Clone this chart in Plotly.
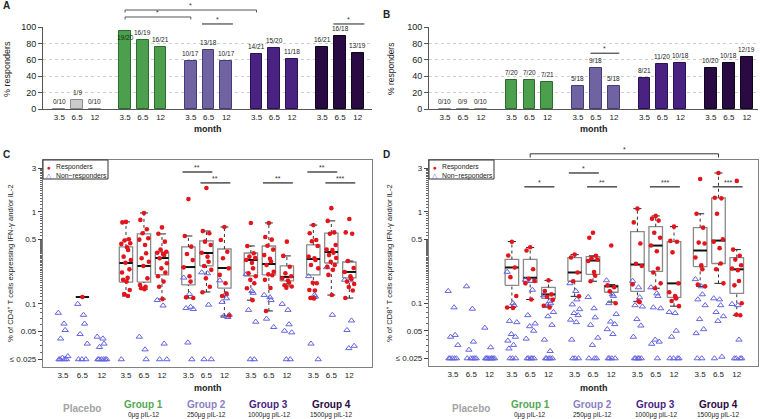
import plotly.graph_objects as go
import math

# ---------------- data ----------------
MONTHS = ["3.5", "6.5", "12"]
GROUPS = ["Placebo", "Group 1", "Group 2", "Group 3", "Group 4"]
DOSES = ["", "0μg pIL-12", "250μg pIL-12", "1000μg pIL-12", "1500μg pIL-12"]

# panel A / B: responders / total per (group, month)
CD4_RESPONDERS = [0, 1, 0, 19, 16, 16, 10, 13, 10, 14, 15, 11, 16, 16, 13]
CD4_TOTAL = [10, 9, 10, 20, 19, 21, 17, 18, 17, 21, 20, 18, 21, 18, 19]
CD8_RESPONDERS = [0, 0, 0, 7, 7, 7, 5, 9, 5, 8, 11, 10, 10, 10, 12]
CD8_TOTAL = [10, 9, 10, 20, 20, 21, 18, 18, 18, 21, 20, 18, 20, 18, 19]

# panel C: % CD4+ cells, responders (red) and non-responders (blue)
CD4_RESP_VALUES = [
    [], [0.119], [],
    [0.78, 0.77, 0.505, 0.49, 0.457, 0.45, 0.413, 0.386, 0.327, 0.301, 0.281, 0.238, 0.22, 0.192, 0.183, 0.175, 0.142, 0.128, 0.122],
    [0.975, 0.82, 0.65, 0.587, 0.518, 0.5, 0.438, 0.356, 0.314, 0.288, 0.259, 0.19, 0.161, 0.154, 0.148, 0.145],
    [0.68, 0.58, 0.476, 0.39, 0.37, 0.36, 0.35, 0.34, 0.314, 0.277, 0.244, 0.219, 0.2, 0.175, 0.154, 0.113],
    [1.38, 0.548, 0.42, 0.35, 0.3, 0.25, 0.2, 0.175, 0.118, 0.116],
    [1.82, 0.62, 0.587, 0.476, 0.438, 0.361, 0.327, 0.288, 0.259, 0.235, 0.19, 0.154, 0.134],
    [0.687, 0.496, 0.37, 0.314, 0.244, 0.207, 0.168, 0.13, 0.122, 0.075],
    [0.76, 0.427, 0.356, 0.327, 0.316, 0.301, 0.28, 0.244, 0.216, 0.2, 0.183, 0.168, 0.148, 0.11],
    [0.76, 0.535, 0.5, 0.43, 0.39, 0.34, 0.31, 0.29, 0.265, 0.224, 0.21, 0.205, 0.183, 0.149, 0.084],
    [0.476, 0.333, 0.254, 0.216, 0.2, 0.19, 0.18, 0.17, 0.16, 0.155, 0.15],
    [0.72, 0.587, 0.496, 0.48, 0.427, 0.327, 0.314, 0.301, 0.265, 0.244, 0.17, 0.168, 0.142, 0.14, 0.116, 0.115],
    [1.1, 0.8, 0.6, 0.58, 0.438, 0.39, 0.385, 0.36, 0.34, 0.316, 0.288, 0.265, 0.253, 0.235, 0.207, 0.125],
    [0.84, 0.6, 0.58, 0.293, 0.246, 0.223, 0.2, 0.187, 0.175, 0.165, 0.153, 0.14, 0.116],
]
CD4_NONRESP_VALUES = [
    [0.08, 0.061, 0.052, 0.042, 0.027, 0.026, 0.025, 0.025, 0.025, 0.025],
    [0.1, 0.076, 0.061, 0.047, 0.037, 0.025, 0.025, 0.025],
    [0.044, 0.042, 0.037, 0.034, 0.025, 0.025, 0.025, 0.025, 0.025, 0.025],
    [0.025],
    [0.044, 0.032, 0.025],
    [0.11, 0.096, 0.037, 0.025, 0.025],
    [0.193, 0.128, 0.093, 0.09, 0.088, 0.038, 0.025],
    [0.22, 0.215, 0.098, 0.025, 0.025],
    [0.18, 0.128, 0.115, 0.105, 0.076, 0.074, 0.072],
    [0.21, 0.138, 0.132, 0.086, 0.064, 0.025, 0.025],
    [0.125, 0.118, 0.11, 0.069, 0.056],
    [0.1, 0.086, 0.06, 0.051, 0.049, 0.025, 0.025],
    [0.2, 0.125, 0.12, 0.037, 0.025],
    [0.25, 0.076],
    [0.183, 0.18, 0.066, 0.052, 0.035, 0.033],
]
# box stats (lower whisker, Q1, median, Q3, upper whisker) of responders
CD4_BOX = [
    None, (0.119, 0.119, 0.119, 0.119, 0.119), None,
    (0.122, 0.173, 0.279, 0.417, 0.78), (0.145, 0.173, 0.259, 0.577, 0.975), (0.113, 0.207, 0.316, 0.367, 0.577),
    (0.116, 0.161, 0.252, 0.417, 0.548), (0.135, 0.259, 0.358, 0.484, 0.621), (0.074, 0.149, 0.246, 0.396, 0.687),
    (0.11, 0.202, 0.301, 0.358, 0.427), (0.084, 0.207, 0.272, 0.427, 0.76), (0.157, 0.178, 0.197, 0.259, 0.333),
    (0.116, 0.207, 0.308, 0.438, 0.72), (0.125, 0.279, 0.367, 0.59, 0.8), (0.116, 0.192, 0.223, 0.286, 0.293),
]

# panel D: % CD8+ cells
CD8_RESP_VALUES = [
    [], [], [],
    [0.47, 0.333, 0.246, 0.193, 0.12, 0.09, 0.089],
    [0.41, 0.377, 0.235, 0.185, 0.175, 0.165, 0.11],
    [0.178, 0.136, 0.125, 0.118, 0.109, 0.094, 0.09],
    [0.34, 0.316, 0.217, 0.174, 0.119],
    [0.59, 0.52, 0.33, 0.31, 0.3, 0.29, 0.22, 0.2, 0.174],
    [0.427, 0.157, 0.15, 0.135, 0.1],
    [1.08, 0.765, 0.449, 0.27, 0.255, 0.161, 0.105, 0.103],
    [0.9, 0.84, 0.8, 0.59, 0.52, 0.427, 0.37, 0.24, 0.217, 0.165, 0.146],
    [0.687, 0.48, 0.47, 0.36, 0.165, 0.132, 0.12, 0.113, 0.106, 0.093],
    [2.28, 0.95, 0.67, 0.46, 0.45, 0.316, 0.26, 0.235, 0.16, 0.153],
    [2.65, 1.42, 1.4, 0.95, 0.5, 0.47, 0.4, 0.272, 0.235, 0.165],
    [2.17, 0.386, 0.33, 0.3, 0.26, 0.24, 0.23, 0.175, 0.157, 0.1, 0.075, 0.074],
]
CD8_NONRESP_VALUES = [
    [0.136, 0.09, 0.045, 0.043, 0.035, 0.025, 0.025, 0.025, 0.025, 0.025],
    [0.153, 0.087, 0.038, 0.031, 0.025, 0.025, 0.025, 0.025, 0.025],
    [0.054, 0.033, 0.025, 0.025, 0.025, 0.025, 0.025, 0.025, 0.025, 0.025],
    [0.22, 0.1, 0.095, 0.064, 0.062, 0.046, 0.043, 0.039, 0.035, 0.032, 0.025, 0.025, 0.025],
    [0.18, 0.175, 0.14, 0.074, 0.06, 0.056, 0.05, 0.041, 0.025, 0.025, 0.025, 0.025, 0.025],
    [0.122, 0.105, 0.1, 0.093, 0.08, 0.072, 0.058, 0.04, 0.03, 0.025, 0.025, 0.025, 0.025, 0.025],
    [0.165, 0.136, 0.11, 0.097, 0.086, 0.078, 0.074, 0.066, 0.062, 0.04, 0.025, 0.025, 0.025],
    [0.117, 0.088, 0.07, 0.058, 0.042, 0.035, 0.025, 0.025, 0.025],
    [0.178, 0.125, 0.12, 0.1, 0.076, 0.063, 0.059, 0.052, 0.046, 0.025, 0.025, 0.025, 0.025],
    [0.175, 0.149, 0.116, 0.095, 0.092, 0.067, 0.057, 0.043, 0.025, 0.025, 0.025, 0.025, 0.025],
    [0.149, 0.128, 0.12, 0.09, 0.088, 0.04, 0.038, 0.036, 0.025],
    [0.08, 0.078, 0.05, 0.043, 0.025, 0.025, 0.025, 0.025],
    [0.183, 0.153, 0.125, 0.11, 0.095, 0.067, 0.052, 0.047, 0.025, 0.025],
    [0.113, 0.11, 0.095, 0.08, 0.072, 0.064, 0.026, 0.025],
    [0.098, 0.095, 0.04, 0.025, 0.025, 0.025, 0.025],
]
CD8_BOX = [
    None, None, None,
    (0.09, 0.157, 0.246, 0.301, 0.472), (0.11, 0.169, 0.19, 0.301, 0.406), (0.093, 0.113, 0.125, 0.149, 0.178),
    (0.119, 0.174, 0.217, 0.316, 0.34), (0.174, 0.207, 0.293, 0.324, 0.33), (0.103, 0.132, 0.153, 0.157, 0.16),
    (0.105, 0.135, 0.265, 0.606, 1.08), (0.146, 0.223, 0.427, 0.687, 0.9), (0.093, 0.116, 0.165, 0.472, 0.687),
    (0.153, 0.252, 0.377, 0.67, 0.95), (0.165, 0.272, 0.484, 1.42, 2.65), (0.074, 0.128, 0.235, 0.316, 0.386),
]

# significance comparisons
A_BRACKETS = [((1, 0), (3, 0), 1.207, True, "*"), ((1, 0), (2, 0), 1.122, True, "*"),
              ((2, 1), (2, 2), 1.037, False, "*"), ((4, 1), (4, 2), 1.037, False, "*")]
B_BRACKETS = [((2, 1), (2, 2), 68.0, "*")]
C_BRACKETS = [((2, 0), (2, 1), 2.72, "**"), ((2, 1), (2, 2), 2.07, "**"), ((3, 1), (3, 2), 2.07, "**"),
              ((4, 0), (4, 1), 2.72, "**"), ((4, 1), (4, 2), 2.07, "***")]
D_BRACKETS = [((2, 0), (2, 1), 2.65, "*"), ((1, 1), (1, 2), 1.87, "*"), ((2, 1), (2, 2), 1.87, "**"),
              ((3, 1), (3, 2), 1.87, "***"), ((4, 1), (4, 2), 1.87, "***")]
D_TOP_BRACKET = ((1, 1), (4, 1), "*")

# ---------------- style / geometry ----------------
FONT = "Liberation Sans, Arial, sans-serif"
W, H = 760, 419
BAR_COLORS = ["#cbcbcb", "#4c9f4c", "#6f63a2", "#4a2382", "#290a42"]
BAR_EDGES = ["#8c8c8c", "#2e6a2e", "#453b78", "#2b1152", "#10031c"]
LABEL_COLORS = ["#a3a3a3", "#52a852", "#8a80c2", "#4a2382", "#290a42"]
RED = "#e3141b"
BLUE = "#6464e0"
JIT = [0.0, -0.2, 0.16, -0.08, 0.24, -0.26, 0.06, 0.12, -0.13, 0.27, -0.03, 0.19, -0.22, 0.09, -0.16,
       0.03, 0.21, -0.1, 0.11]


def fx(px):
    return px / W


def fy(py):
    return 1 - py / H


def bar_pos(g, t):
    return g * 3.7 + t


def pos_c(g, t):
    return t * 1.08 if g == 0 else 3.5 + (g - 1) * 3.47 + t


def pos_d(g, t):
    return t * 1.0 if g == 0 else 3.22 + (g - 1) * 3.43 + t


fig = go.Figure()
annotations = []
shapes = []

# ---------------- panels A and B (bars) ----------------
for resp, tot, xa, ya in [(CD4_RESPONDERS, CD4_TOTAL, "x", "y"), (CD8_RESPONDERS, CD8_TOTAL, "x2", "y2")]:
    xs, ys, cols, edges = [], [], [], []
    for g in range(5):
        for t in range(3):
            i = g * 3 + t
            v = 100.0 * resp[i] / tot[i]
            xs.append(bar_pos(g, t))
            ys.append(v)
            cols.append(BAR_COLORS[g])
            edges.append(BAR_EDGES[g])
            inside = v > 90
            annotations.append(dict(x=bar_pos(g, t), y=v, xref=xa, yref=ya, text=f"{resp[i]}/{tot[i]}",
                                    showarrow=False, font=dict(size=6.5, color="#222" if not inside else "#103010"),
                                    xanchor="center", yanchor="top" if inside else "bottom",
                                    yshift=-1 if inside else 2))
    fig.add_trace(go.Bar(x=xs, y=ys, width=0.66, xaxis=xa, yaxis=ya, showlegend=False, hoverinfo="skip",
                         marker=dict(color=cols, line=dict(color=edges, width=1))))

# A brackets
for (g1, t1), (g2, t2), lev, tick, star in A_BRACKETS:
    if tick:
        x1, x2 = bar_pos(g1, t1), bar_pos(g2, t2)
        shapes.append(dict(type="path", xref="x", yref="y domain",
                           path=f"M {x1} {lev - 0.03} L {x1} {lev} L {x2} {lev} L {x2} {lev - 0.03}",
                           line=dict(color="#555", width=1)))
    else:
        m = (bar_pos(g1, t1) + bar_pos(g2, t2)) / 2
        x1, x2 = m - 0.87, m + 0.87
        shapes.append(dict(type="line", xref="x", yref="y domain", x0=x1, x1=x2, y0=lev, y1=lev,
                           line=dict(color="#444", width=1.2)))
    annotations.append(dict(x=(x1 + x2) / 2, y=lev, xref="x", yref="y domain", text=star, showarrow=False,
                            font=dict(size=7, color="#333"), xanchor="center", yanchor="bottom", yshift=-1))

for (g1, t1), (g2, t2), lev, star in B_BRACKETS:
    m = (bar_pos(g1, t1) + bar_pos(g2, t2)) / 2
    shapes.append(dict(type="line", xref="x2", yref="y2", x0=m - 0.8, x1=m + 0.8, y0=lev, y1=lev,
                       line=dict(color="#444", width=1.2)))
    annotations.append(dict(x=m, y=lev, xref="x2", yref="y2", text=star, showarrow=False,
                            font=dict(size=7, color="#333"), xanchor="center", yanchor="bottom", yshift=-1))

# ---------------- panels C and D (box + points) ----------------
for resp_vals, nonresp_vals, boxes, pos, xa, ya in [
        (CD4_RESP_VALUES, CD4_NONRESP_VALUES, CD4_BOX, pos_c, "x3", "y3"),
        (CD8_RESP_VALUES, CD8_NONRESP_VALUES, CD8_BOX, pos_d, "x4", "y4")]:
    bx, by, mx, my, wx, wy, cx, cy = [], [], [], [], [], [], [], []
    hw, cw = 0.37, 0.22
    for i, st in enumerate(boxes):
        if st is None:
            continue
        g, t = divmod(i, 3)
        x = pos(g, t)
        lo, q1, med, q3, hi = st
        if q3 > q1:
            bx += [x - hw, x + hw, x + hw, x - hw, x - hw, None]
            by += [q1, q1, q3, q3, q1, None]
        mx += [x - hw, x + hw, None]
        my += [med, med, None]
        if hi > q3:
            wx += [x, x, None]
            wy += [q3, hi, None]
            cx += [x - cw, x + cw, None]
            cy += [hi, hi, None]
        if lo < q1:
            wx += [x, x, None]
            wy += [lo, q1, None]
            cx += [x - cw, x + cw, None]
            cy += [lo, lo, None]
    fig.add_trace(go.Scatter(x=bx, y=by, mode="lines", line=dict(color="#8a8a8a", width=1.3), xaxis=xa, yaxis=ya,
                             showlegend=False, hoverinfo="skip"))
    fig.add_trace(go.Scatter(x=wx, y=wy, mode="lines", line=dict(color="#333", width=1, dash="dot"), xaxis=xa,
                             yaxis=ya, showlegend=False, hoverinfo="skip"))
    fig.add_trace(go.Scatter(x=cx, y=cy, mode="lines", line=dict(color="#222", width=1), xaxis=xa, yaxis=ya,
                             showlegend=False, hoverinfo="skip"))
    fig.add_trace(go.Scatter(x=mx, y=my, mode="lines", line=dict(color="#111", width=2), xaxis=xa, yaxis=ya,
                             showlegend=False, hoverinfo="skip"))
    # non-responders
    nx, ny = [], []
    for i, vals in enumerate(nonresp_vals):
        g, t = divmod(i, 3)
        for k, v in enumerate(vals):
            nx.append(pos(g, t) + JIT[(k + 5) % len(JIT)])
            ny.append(v)
    fig.add_trace(go.Scatter(x=nx, y=ny, mode="markers", xaxis=xa, yaxis=ya, showlegend=False, hoverinfo="skip",
                             marker=dict(symbol="triangle-up-open", size=5.5, color=BLUE, line=dict(width=1))))
    # responders
    rx, ry = [], []
    for i, vals in enumerate(resp_vals):
        g, t = divmod(i, 3)
        for k, v in enumerate(vals):
            rx.append(pos(g, t) + JIT[k % len(JIT)])
            ry.append(v)
    fig.add_trace(go.Scatter(x=rx, y=ry, mode="markers", xaxis=xa, yaxis=ya, showlegend=False, hoverinfo="skip",
                             marker=dict(symbol="circle", size=4.6, color=RED, line=dict(width=0))))

# C / D brackets (shapes take raw values on log axes; annotations take log10)
for brs, pos, xa, ya, half in [(C_BRACKETS, pos_c, "x3", "y3", 0.83), (D_BRACKETS, pos_d, "x4", "y4", 0.82)]:
    for (g1, t1), (g2, t2), lev, star in brs:
        m = (pos(g1, t1) + pos(g2, t2)) / 2
        shapes.append(dict(type="line", xref=xa, yref=ya, x0=m - half, x1=m + half, y0=lev, y1=lev,
                           line=dict(color="#222", width=1.2)))
        annotations.append(dict(x=m, y=math.log10(lev), xref=xa, yref=ya, text=star, showarrow=False,
                                font=dict(size=7, color="#333"), xanchor="center", yanchor="bottom", yshift=-1))
(g1, t1), (g2, t2), star = D_TOP_BRACKET
x1, x2 = pos_d(g1, t1), pos_d(g2, t2)
shapes.append(dict(type="path", xref="x4", yref="y4 domain",
                   path=f"M {x1} 1.012 L {x1} 1.03 L {x2} 1.03 L {x2} 1.012",
                   line=dict(color="#333", width=1)))
annotations.append(dict(x=(x1 + x2) / 2, y=1.03, xref="x4", yref="y4 domain", text=star, showarrow=False,
                        font=dict(size=7, color="#333"), xanchor="center", yanchor="bottom", yshift=-1))

# ---------------- axes ----------------
MAJOR = [0.025, 0.05, 0.1, 0.5, 1, 3]
MAJOR_TXT = ["≤ 0.025", "0.05", "0.1", "0.5", "1", "3"]
MINOR = ([0.03, 0.035, 0.04, 0.045, 0.06, 0.07, 0.08, 0.09]
         + [round(0.1 + 0.01 * k, 3) for k in range(1, 40)]
         + [round(0.5 + 0.05 * k, 3) for k in range(1, 10)]
         + [round(1 + 0.1 * k, 2) for k in range(1, 20)])

bar_ticks = [bar_pos(g, t) for g in range(5) for t in range(3)]
layout = dict(width=W, height=H, autosize=False, margin=dict(l=0, r=0, t=0, b=0, pad=0),
              paper_bgcolor="white", plot_bgcolor="white", showlegend=False,
              font=dict(family=FONT, color="#222"), bargap=0)

for n, (xd, yd, rng) in enumerate([((43, 372), (27, 109), [-0.92, 17.6]), ((429, 758), (27, 109), [-0.89, 17.42])]):
    s = "" if n == 0 else "2"
    layout["xaxis" + s] = dict(domain=[fx(xd[0]), fx(xd[1])], range=rng, tickvals=bar_ticks, ticktext=MONTHS * 5,
                               showline=True, linecolor="#555", linewidth=1, ticks="", tickfont=dict(size=8),
                               showgrid=False, zeroline=False, anchor="y" + s, automargin=False)
    layout["yaxis" + s] = dict(domain=[fy(yd[1]), fy(yd[0])], range=[0, 100], tickvals=[0, 20, 40, 60, 80, 100],
                               showline=True, linecolor="#555", linewidth=1, ticks="outside", ticklen=4,
                               tickcolor="#555", tickfont=dict(size=9), showgrid=True, gridcolor="#cfcfcf",
                               griddash="dot", gridwidth=1, zeroline=False, anchor="x" + s, automargin=False)

for n, (xd, yd, rng, pos) in enumerate([((43, 372), (160, 367), [-1.11, 17.17], pos_c),
                                        ((429, 758), (160, 366), [-1.31, 16.67], pos_d)]):
    s = str(n + 3)
    layout["xaxis" + s] = dict(domain=[fx(xd[0]), fx(xd[1])], range=rng,
                               tickvals=[pos(g, t) for g in range(5) for t in range(3)], ticktext=MONTHS * 5,
                               showline=True, mirror=True, linecolor="#808080", linewidth=1.2, ticks="",
                               tickfont=dict(size=8), showgrid=False, zeroline=False, anchor="y" + s,
                               automargin=False)
    layout["yaxis" + s] = dict(domain=[fy(yd[1]), fy(yd[0])], type="log", range=[-1.685, 0.565], tickvals=MAJOR,
                               ticktext=MAJOR_TXT, showline=True, mirror=True, linecolor="#808080",
                               linewidth=1.2, ticks="outside", ticklen=4, tickcolor="#444", tickfont=dict(size=8),
                               minor=dict(tickvals=MINOR, ticks="outside", ticklen=2, tickcolor="#666"),
                               showgrid=False, zeroline=False, anchor="x" + s, automargin=False)


def text(x, y, t, size, color="#222", **kw):
    d = dict(x=x, y=y, xref="paper", yref="paper", text=t, showarrow=False, font=dict(size=size, color=color),
             xanchor="center", yanchor="middle")
    d.update(kw)
    annotations.append(d)


# panel letters
text(fx(1), fy(6), "<b>A</b>", 10, xanchor="left")
text(fx(381), fy(15), "<b>B</b>", 10, xanchor="left")
text(fx(1), fy(154), "<b>C</b>", 10, xanchor="left")
text(fx(381), fy(154), "<b>D</b>", 10, xanchor="left")

# axis titles
text(fx(208), fy(129), "<b>month</b>", 9)
text(fx(594), fy(129), "<b>month</b>", 9)
text(fx(208), fy(388), "<b>month</b>", 9)
text(fx(594), fy(388), "<b>month</b>", 9)
text(fx(7), fy(69), "% responders", 9, textangle=-90)
text(fx(391), fy(69), "% responders", 8.5, textangle=-90)
text(fx(10), fy(263), "% of CD4<sup>+</sup> T cells expressing IFN-γ and/or IL-2", 7.6, textangle=-90)
text(fx(389), fy(263), "% of CD8<sup>+</sup> T cells expressing IFN-γ and/or IL-2", 7.6, textangle=-90)

# group labels below C and D
for xa, pos in [("x3", pos_c), ("x4", pos_d)]:
    for g in range(5):
        if g == 0:
            annotations.append(dict(x=pos(g, 1), y=fy(408), xref=xa, yref="paper", showarrow=False,
                                    xanchor="center", yanchor="middle",
                                    text=f"<b>{GROUPS[g]}</b>", font=dict(size=10, color=LABEL_COLORS[g])))
        else:
            annotations.append(dict(x=pos(g, 1), y=fy(404), xref=xa, yref="paper", showarrow=False,
                                    xanchor="center", yanchor="middle",
                                    text=f"<b>{GROUPS[g]}</b>", font=dict(size=10, color=LABEL_COLORS[g])))
            annotations.append(dict(x=pos(g, 1), y=fy(415), xref=xa, yref="paper", showarrow=False,
                                    xanchor="center", yanchor="middle",
                                    text=DOSES[g], font=dict(size=6.5, color="#222")))

# legends inside C and D
for x0 in (43, 429):
    shapes.append(dict(type="rect", xref="paper", yref="paper", x0=fx(x0), x1=fx(x0 + 65), y0=fy(179), y1=fy(160),
                       line=dict(color="#333", width=1), fillcolor="white"))
    text(fx(x0 + 6), fy(167.5), "●", 6.5, color=RED)
    text(fx(x0 + 6), fy(175.5), "△", 6.5, color=BLUE)
    text(fx(x0 + 11), fy(167.5), "Responders", 6.8, xanchor="left")
    text(fx(x0 + 11), fy(175.5), "Non−responders", 6.8, xanchor="left")

layout["annotations"] = annotations
layout["shapes"] = shapes
fig.update_layout(**layout)
fig.write_html("out.html", config={"displayModeBar": False},
               post_script="document.body.style.margin='0px';")
